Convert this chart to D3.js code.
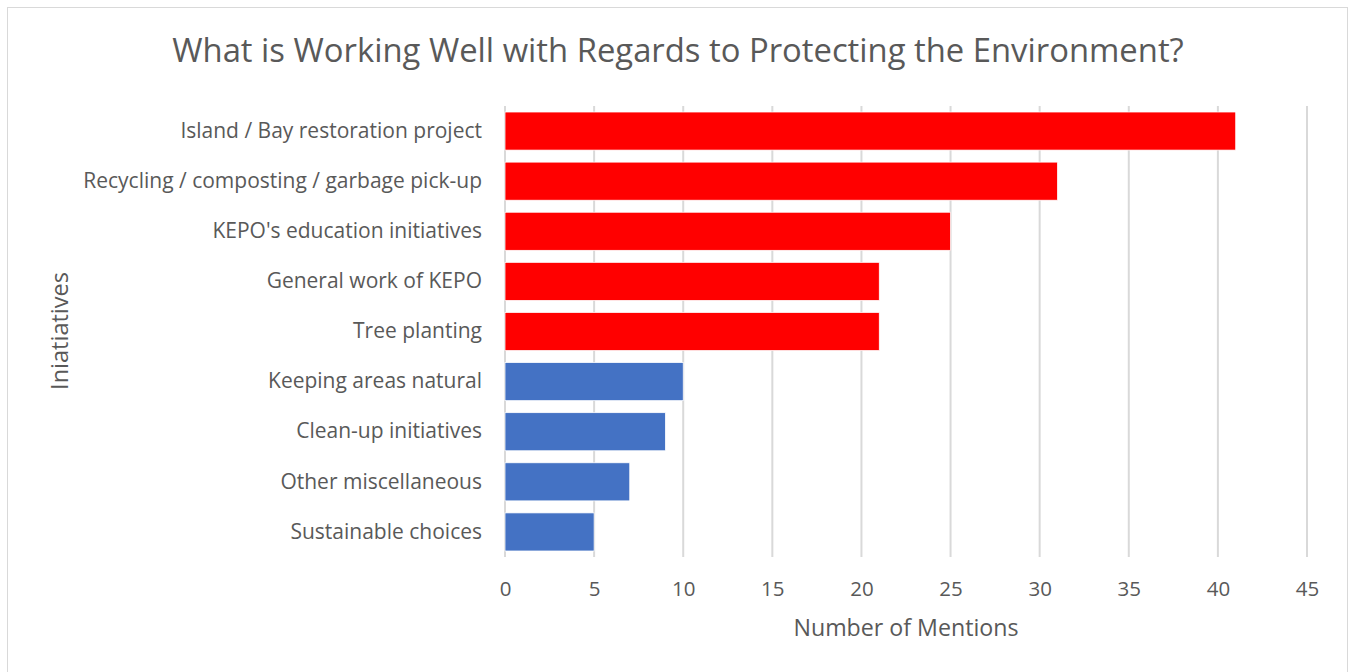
<!DOCTYPE html>
<html>
<head>
<meta charset="utf-8">
<script src="https://cdn.jsdelivr.net/npm/d3@7"></script>
<style>
  body { margin: 0; background: #fff; }
</style>
</head>
<body>
<svg width="1349" height="672"></svg>
<script>
// Chart data
const categories = [
    "Island / Bay restoration project",
    "Recycling / composting / garbage pick-up",
    "KEPO's education initiatives",
    "General work of KEPO",
    "Tree planting",
    "Keeping areas natural",
    "Clean-up initiatives",
    "Other miscellaneous",
    "Sustainable choices"
];
const mentions = [41, 31, 25, 21, 21, 10, 9, 7, 5];
const highlighted = [true, true, true, true, true, false, false, false, false];
const xTicks = [0, 5, 10, 15, 20, 25, 30, 35, 40, 45];

const font = "'Open Sans', 'Noto Sans', sans-serif";
const textColor = "#595959";

const svg = d3.select("svg").style("font-family", font);

// chart border
svg.append("rect")
    .attr("x", 7.5).attr("y", 7.5)
    .attr("width", 1340).attr("height", 670)
    .attr("fill", "none")
    .attr("stroke", "#d9d9d9");

const margin = {top: 106, right: 42, bottom: 115, left: 505};
const width = 1349 - margin.left - margin.right;
const height = 672 - margin.top - margin.bottom;

const g = svg.append("g").attr("transform", `translate(${margin.left},${margin.top})`);

const xScale = d3.scaleLinear().domain([0, 45]).range([0, width]);
const yScale = d3.scaleBand().domain(categories).range([0, height]).paddingInner(0.24).paddingOuter(0.12);

// gridlines
g.selectAll("line.grid")
    .data(xTicks)
    .enter()
    .append("line")
    .attr("class", "grid")
    .attr("x1", d => xScale(d)).attr("x2", d => xScale(d))
    .attr("y1", 0).attr("y2", height)
    .attr("stroke", "#d9d9d9")
    .attr("stroke-width", 2);

// bars
g.selectAll("rect.bar")
    .data(categories)
    .enter()
    .append("rect")
    .attr("class", "bar")
    .attr("x", 0)
    .attr("y", d => yScale(d))
    .attr("width", (d, i) => xScale(mentions[i]))
    .attr("height", yScale.bandwidth())
    .attr("fill", (d, i) => highlighted[i] ? "#ff0000" : "#4472c4")
    .attr("stroke", "#fff")
    .attr("stroke-width", 0.75);

// x axis
const xAxis = d3.axisBottom(xScale).tickValues(xTicks).tickSize(0).tickPadding(24);
const xg = g.append("g").attr("transform", `translate(0,${height})`).call(xAxis);
xg.attr("font-family", font).attr("font-size", 20.5);
xg.select(".domain").remove();
xg.selectAll("text").attr("fill", textColor);

// y axis
const yAxis = d3.axisLeft(yScale).tickSize(0).tickPadding(23);
const yg = g.append("g").call(yAxis);
yg.attr("font-family", font).attr("font-size", 21);
yg.select(".domain").remove();
yg.selectAll("text").attr("fill", textColor);

// title
svg.append("text")
    .attr("x", 678).attr("y", 62)
    .attr("text-anchor", "middle")
    .attr("fill", textColor)
    .style("font-size", "32.8px")
    .text("What is Working Well with Regards to Protecting the Environment?");

// axis titles
svg.append("text")
    .attr("x", margin.left + width / 2).attr("y", 636)
    .attr("text-anchor", "middle")
    .attr("fill", textColor)
    .style("font-size", "23.2px")
    .text("Number of Mentions");

svg.append("text")
    .attr("transform", "translate(68,331) rotate(-90)")
    .attr("text-anchor", "middle")
    .attr("fill", textColor)
    .style("font-size", "23.5px")
    .text("Iniatiatives");
</script>
</body>
</html>
